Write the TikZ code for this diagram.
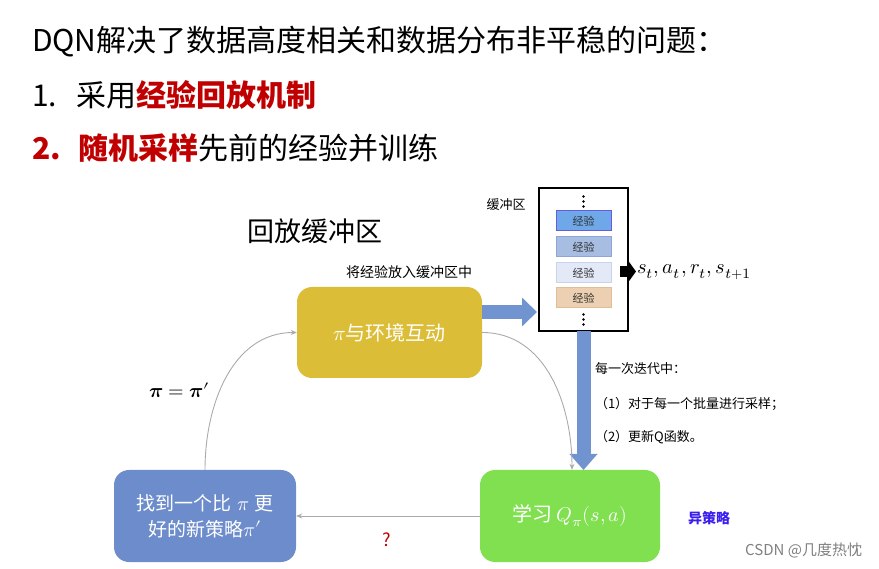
\documentclass[tikz,border=0pt]{standalone}
\usepackage{fontspec}
\usepackage{unicode-math}
\usepackage{graphicx}
\setmainfont{Noto Sans CJK SC}
\setmathfont{Latin Modern Math}
\usetikzlibrary{arrows.meta}
\definecolor{yellowc}{HTML}{DBBD37}
\definecolor{greenc}{HTML}{80E050}
\definecolor{bluebox}{HTML}{6C8CCB}
\definecolor{blockc}{HTML}{7194D0}
\definecolor{redc}{HTML}{C00000}
\definecolor{graylinec}{HTML}{AAAAAA}
\definecolor{offc}{HTML}{3A1EF0}
\definecolor{bufa}{HTML}{6FA8E8}
\definecolor{bufab}{HTML}{6A5AE0}
\definecolor{bufb}{HTML}{A8BDE2}
\definecolor{bufbb}{HTML}{8FA6D4}
\definecolor{bufc}{HTML}{E3E9F6}
\definecolor{bufcb}{HTML}{C9D4EA}
\definecolor{bufd}{HTML}{EDD0B2}
\definecolor{bufdb}{HTML}{E0BE98}
\newcommand{\fs}[1]{\fontsize{#1}{#1}\selectfont}
\newcommand{\mth}[2]{\scalebox{#1}{\normalsize$#2$}}
\begin{document}
\begin{tikzpicture}[x=1pt,y=-1pt,
  txt/.style={inner sep=0pt, outer sep=0pt},
  bigbox/.style={rounded corners=15pt, draw=none, text=white, inner sep=0pt, align=center},
  expbox/.style={draw, line width=1pt, minimum width=55pt, minimum height=20pt, inner sep=0pt, font=\fs{11}, text=black!80},
  graylink/.style={draw=graylinec, line width=0.9pt, -{Stealth[length=6pt,width=5pt]}},
  blockarrow/.style={draw=blockc, line width=14pt, -{Triangle[length=15pt,width=28pt]}}
]
\useasboundingbox (0,0) rectangle (879,569);
% title
\node[txt, anchor=west, font=\fs{30}] (t1) at (32,42) {DQN解决了数据高度相关和数据分布非平稳的问题：};
\node[txt, anchor=west, font=\fs{30}] (t2) at (32,95) {1.\hspace{20pt}采用{\bfseries\color{redc}经验回放机制}};
\node[txt, anchor=west, font=\fs{30}] (t3) at (32,148) {{\bfseries\color{redc}2.\hspace{18pt}随机采样}先前的经验并训练};
% labels
\node[txt, font=\fs{27}] (rb) at (315,231) {回放缓冲区};
\node[txt, font=\fs{14}] (put) at (409,272) {将经验放入缓冲区中};
\node[txt, font=\fs{13}] (bufl) at (506,205) {缓冲区};
% boxes
\node[bigbox, fill=yellowc, minimum width=185pt, minimum height=91pt, font=\fs{20}] (yellow) at (389.5,332.5) {\mth{2.1}{\pi}与环境互动};
\node[bigbox, fill=greenc, minimum width=180pt, minimum height=92pt, font=\fs{20}] (green) at (570,516) {学习\hspace{4pt}\mth{2}{Q_\pi(s,a)}};
\node[bigbox, fill=bluebox, minimum width=182pt, minimum height=92pt, font=\fs{19}] (blue) at (205,516) {找到一个比\hspace{6pt}\mth{2}{\pi}\hspace{6pt}更\\[7pt]好的新策略\mth{2}{\pi'}};
% buffer
\node[draw=black, line width=2pt, minimum width=89pt, minimum height=143pt, inner sep=0pt] (buf) at (583.5,259.5) {};
\node[expbox, fill=bufa, draw=bufab] (e1) at (583.5,221) {经验};
\node[expbox, fill=bufb, draw=bufbb] (e2) at (583.5,247) {经验};
\node[expbox, fill=bufc, draw=bufcb] (e3) at (583.5,273) {经验};
\node[expbox, fill=bufd, draw=bufdb] (e4) at (583.5,298) {经验};
\foreach \yy in {196.5,201.5,206.5,314.5,319.5,324.5} \fill (583.5,\yy) circle (1.4pt);
% output arrow
\coordinate (oa) at (620,271.5);
\coordinate (ob) at (636,271.5);
\draw[line width=11pt, -{Triangle[length=7pt,width=19pt]}] (oa) -- (ob);
\node[txt, anchor=west] (sat) at (637,272) {\mth{2.05}{s_t, a_t, r_t, s_{t+1}}};
% block arrows
\coordinate (ya) at (482,312);
\coordinate (yb) at (537,312);
\draw[blockarrow] (ya) -- (yb);
\coordinate (da) at (583.5,331);
\coordinate (db) at (583.5,470);
\draw[blockarrow, -{Triangle[length=16pt,width=27pt]}] (da) -- (db);
% iteration text
\node[txt, anchor=west, font=\fs{13}] (it0) at (595,369) {每一次迭代中：};
\node[txt, anchor=west, font=\fs{13}] (it1) at (595,404) {（1）对于每一个批量进行采样；};
\node[txt, anchor=west, font=\fs{13}] (it2) at (595,437) {（2）更新Q函数。};
% gray links
\draw[graylink] (yellow.east) to[out=0,in=90] ([xshift=2pt]green.north);
\draw[graylink] (green.west) -- (blue.east);
\draw[graylink] (blue.north) to[out=90,in=180] (yellow.west);
% misc labels
\node[txt] (pp) at (180,390) {\mth{2}{\symbf{\pi} = \symbf{\pi}'}};
\node[txt, font=\fs{18}, text=redc] (q) at (387,540) {?};
\node[txt, font=\bfseries\fs{14}, text=offc] (off) at (709,518) {异策略};
\node[txt, anchor=east, font=\fs{15}, text=black!50] (csdn) at (862,550) {CSDN @几度热忱};
\end{tikzpicture}
\end{document}
